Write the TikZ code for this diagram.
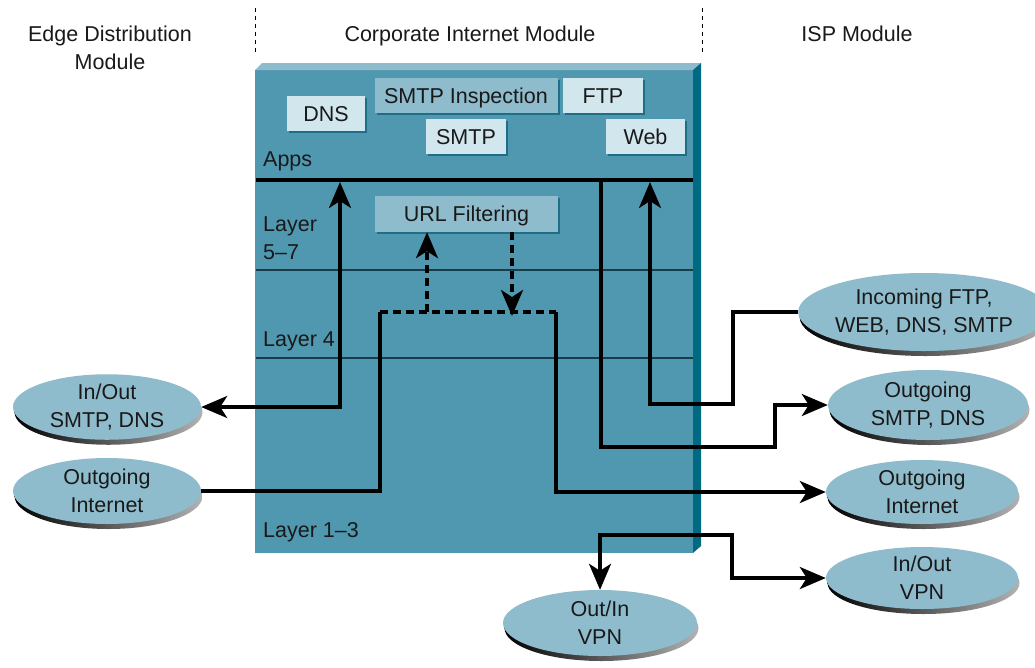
\documentclass[tikz,border=0pt]{standalone}
\usepackage{fontspec}
\setmainfont{Liberation Sans}
\usetikzlibrary{shapes.geometric,arrows.meta,shadows}

\definecolor{slab}{RGB}{80,152,176}
\definecolor{slabtop}{RGB}{143,188,204}
\definecolor{slabside}{RGB}{0,106,130}
\definecolor{appfill}{RGB}{210,230,238}
\definecolor{midfill}{RGB}{143,188,204}
\definecolor{ellfill}{RGB}{143,188,204}
\definecolor{edgeteal}{RGB}{30,110,135}
\definecolor{layerline}{RGB}{25,60,72}

\tikzset{
  lbl/.style={font=\fontsize{21.5}{28}\selectfont, text=black!90, inner sep=0pt},
  oneline/.style={lbl, text height=15pt, text depth=0pt},
  appbox/.style={oneline, rectangle, fill=appfill,
    general shadow={shadow xshift=2pt, shadow yshift=-1.5pt, fill=edgeteal}},
  filterbox/.style={appbox, fill=midfill},
  svc/.style={lbl, ellipse, align=center, fill=ellfill,
    general shadow={shadow xshift=1.5pt, shadow yshift=-5pt,
      left color=black, right color=black!30}},
  flow/.style={line width=3.5pt, line join=miter},
  bigtip/.tip={Stealth[length=26pt,width=22pt,inset=7pt]},
  arr/.style={-bigtip},
  dblarr/.style={bigtip-bigtip},
  dashflow/.style={flow, dash pattern=on 8pt off 5pt},
  layer/.style={line width=1.6pt, draw=layerline},
  divider/.style={line width=0.9pt, dash pattern=on 4pt off 4pt},
}

\begin{document}
\begin{tikzpicture}[x=1pt, y=-1pt]
\useasboundingbox (0,0) rectangle (1035,667);
\fill[white] (0,0) rectangle (1035,667);

% module dividers and headings
\draw[divider] (255,8) -- (255,55);
\draw[divider] (702,8) -- (702,55);
\node[lbl, align=center] (hEdge) at (110,48) {Edge Distribution\\Module};
\node[oneline] (hCorp) at (470,34) {Corporate Internet Module};
\node[oneline] (hIsp) at (857,34) {ISP Module};

% the firewall slab
\fill[slab] (255,70) rectangle (693,553);
\fill[slabtop] (255,70) -- (262,63) -- (701,63) -- (693,70) -- cycle;
\fill[slabside] (693,70) -- (701,63) -- (701,546) -- (693,553) -- cycle;

% layer separators
\draw[layer] (256,270) -- (693,270);
\draw[layer] (256,358) -- (693,358);
\draw[flow] (256,180) -- (693,180);

% layer labels
\node[oneline, anchor=west] (apps) at (263,159) {Apps};
\node[lbl, anchor=west, align=left] (l57) at (263,238) {Layer\\5\textendash7};
\node[oneline, anchor=west] (l4) at (263,339) {Layer 4};
\node[oneline, anchor=west] (l13) at (263,530) {Layer 1\textendash3};

% application services
\node[appbox, minimum width=78pt, minimum height=35pt] (dns) at (326,113.5) {DNS};
\node[filterbox, minimum width=183pt, minimum height=35pt] (smtpi) at (466,95.5) {SMTP Inspection};
\node[appbox, minimum width=80pt, minimum height=35pt] (ftp) at (603,95.5) {FTP};
\node[appbox, minimum width=80pt, minimum height=35pt] (smtp) at (466,136.5) {SMTP};
\node[appbox, minimum width=79pt, minimum height=35pt] (web) at (645.5,136.5) {Web};
\node[filterbox, minimum width=183pt, minimum height=36pt] (url) at (466.5,214) {URL Filtering};

% traffic classes
\node[svc, minimum width=188pt, minimum height=62pt] (edgeSmtp) at (107,407) {In/Out\\SMTP, DNS};
\node[svc, minimum width=188pt, minimum height=66pt] (edgeNet) at (107,491) {Outgoing\\Internet};
\node[svc, minimum width=218pt, minimum height=78pt] (ispIn) at (924,312) {Incoming FTP,\\WEB, DNS, SMTP};
\node[svc, minimum width=200pt, minimum height=70pt] (ispSmtp) at (928,405) {Outgoing\\SMTP, DNS};
\node[svc, minimum width=192pt, minimum height=64pt] (ispNet) at (922,492) {Outgoing\\Internet};
\node[svc, minimum width=192pt, minimum height=62pt] (ispVpn) at (922,578) {In/Out\\VPN};
\node[svc, minimum width=194pt, minimum height=66pt] (vpn) at (600,623) {Out/In\\VPN};

% waypoints
\coordinate (aL) at (340,182);
\coordinate (aR) at (601,180);
\coordinate (aW) at (650,182);
\coordinate (k1) at (775,447);
\coordinate (k2) at (733,404);
\coordinate (u1) at (380,312);
\coordinate (u2) at (556,312);
\coordinate (d1) at (427,312);
\coordinate (d2) at (512,312);
\coordinate (v2) at (732,535);

% flows
\draw[flow, dblarr] (aL) |- (edgeSmtp.east);
\draw[flow, arr] (aR) |- (k1) |- (ispSmtp.west);
\draw[flow, arr] (ispIn.west) -| (k2) -| (aW);
\draw[flow] (edgeNet.east) -| (u1);
\draw[dashflow] (u1) -- (u2);
\draw[flow, arr] (u2) |- (ispNet.west);
\draw[dashflow, arr] (d1) -- (d1 |- url.south);
\draw[dashflow, arr] (url.south -| d2) -- ([yshift=-4pt]d2);
\draw[flow, dblarr] (vpn.north) |- (v2) |- (ispVpn.west);
\end{tikzpicture}
\end{document}
